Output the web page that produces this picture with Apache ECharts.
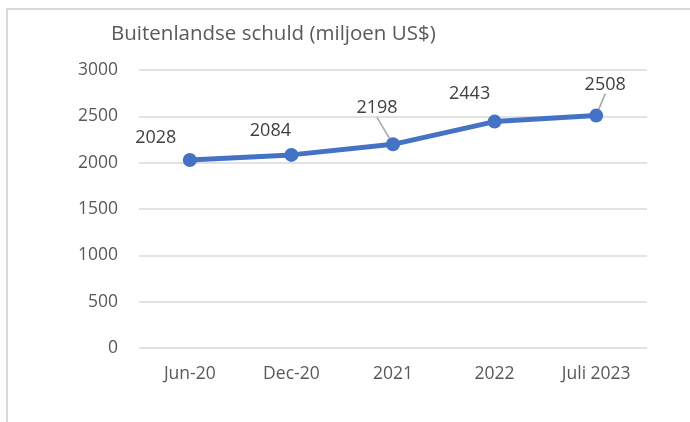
<!DOCTYPE html>
<html>
<head>
<meta charset="utf-8">
<script src="https://cdn.jsdelivr.net/npm/echarts@6/dist/echarts.min.js"></script>
<style>
  html, body { margin: 0; padding: 0; background: #fff; }
  #chart { width: 690px; height: 422px; }
</style>
</head>
<body>
<div id="chart"></div>
<script>
const categories = ['Jun-20', 'Dec-20', '2021', '2022', 'Juli 2023']
const schuld = [2028, 2084, 2198, 2443, 2508]
const yTicks = { min: 0, max: 3000, interval: 500 }

// label offsets (px) relative to each point, as in the original
const labelShift = [[-34, -22], [-21, -24], [-16, -36], [-25, -28], [9, -31]]
const withLeader = [false, false, true, false, true]

const FONT = '"Open Sans", sans-serif'

const chart = echarts.init(document.getElementById('chart'))

chart.setOption({
  animation: false,
  title: {
    text: 'Buitenlandse schuld (miljoen US$)',
    left: 106,
    top: 19,
    textStyle: { fontFamily: FONT, fontSize: 20.5, fontWeight: 'normal', color: '#595959' }
  },
  grid: { left: 139, right: 43, top: 70, bottom: 74 },
  xAxis: {
    type: 'category',
    data: categories,
    axisLine: { show: false },
    axisTick: { show: false },
    axisLabel: { fontFamily: FONT, fontSize: 17.5, color: '#595959', margin: 17 }
  },
  yAxis: {
    type: 'value',
    min: yTicks.min,
    max: yTicks.max,
    interval: yTicks.interval,
    axisLine: { show: false },
    axisTick: { show: false },
    axisLabel: {
      fontFamily: FONT, fontSize: 17.5, color: '#595959', margin: 21,
      formatter: v => String(v)
    },
    splitLine: { lineStyle: { color: '#d9d9d9', width: 1.5 } }
  },
  series: [{
    type: 'line',
    data: schuld.map((v, i) => ({
      value: v,
      labelLine: { show: withLeader[i], lineStyle: { color: '#a6a6a6', width: 1.5 } }
    })),
    symbol: 'circle',
    symbolSize: 14,
    lineStyle: { color: '#4472C4', width: 5 },
    itemStyle: { color: '#4472C4' },
    label: {
      show: true,
      position: 'inside',
      fontFamily: FONT,
      fontSize: 18,
      color: '#404040'
    },
    labelLayout: p => ({ dx: labelShift[p.dataIndex][0], dy: labelShift[p.dataIndex][1] })
  }],
  graphic: [{
    type: 'polyline',
    silent: true,
    shape: { points: [[7, 422], [7, 9], [690, 9]] },
    style: { stroke: '#d9d9d9', lineWidth: 2, fill: null }
  }]
})
</script>
</body>
</html>
